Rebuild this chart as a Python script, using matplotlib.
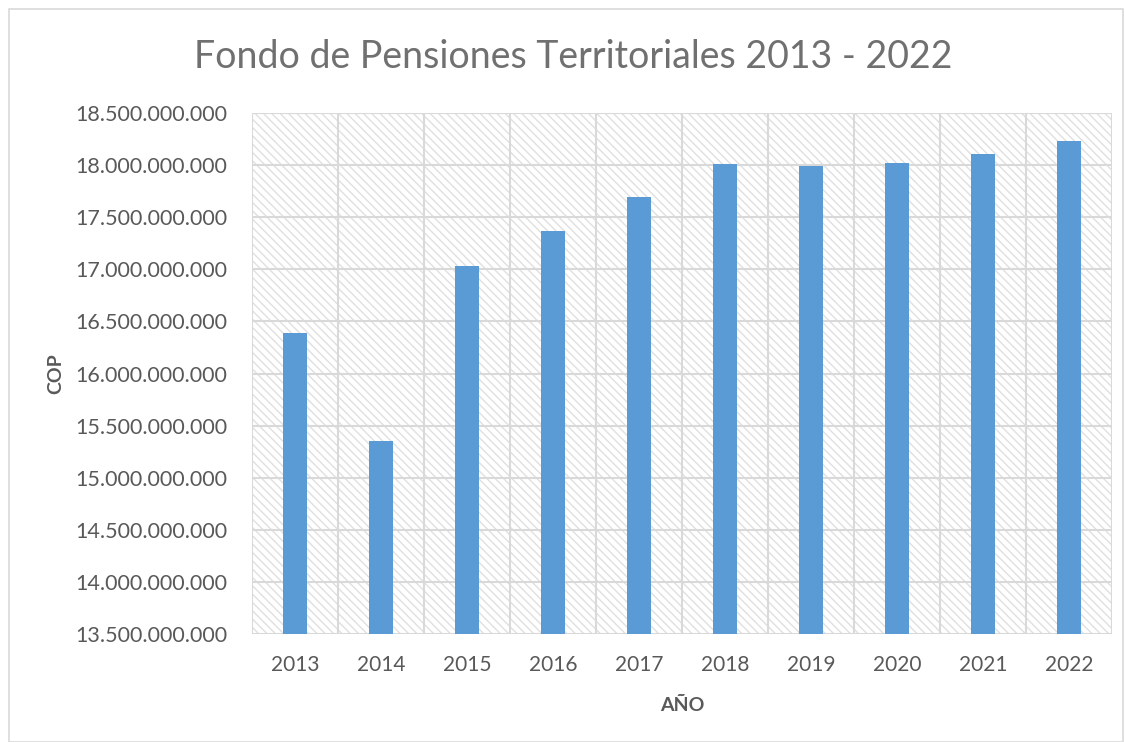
import matplotlib
matplotlib.use("Agg")
import matplotlib.pyplot as plt
import numpy as np
from matplotlib.patches import Rectangle
from matplotlib.ticker import FuncFormatter

years = ["2013", "2014", "2015", "2016", "2017", "2018", "2019", "2020", "2021", "2022"]
valores = [16390000000, 15350000000, 17030000000, 17370000000, 17690000000,
           18010000000, 17995000000, 18020000000, 18110000000, 18230000000]
yticks = np.arange(13500000000, 18500000001, 500000000)

plt.rcParams['font.family'] = ['Lato', 'DejaVu Sans']
plt.rcParams['hatch.linewidth'] = 1.0

fig = plt.figure(figsize=(11.25, 7.42), dpi=100)
ax = fig.add_axes([252/1125, 1-634/742, (1112-252)/1125, (634-113)/742])

# marco exterior
fig.patches.append(Rectangle((9/1125, 0), 1114/1125, 1-9/742, transform=fig.transFigure,
                             fill=False, edgecolor='#D9D9D9', linewidth=1.2))

# fondo con trama
ax.add_patch(Rectangle((0, 0), 1, 1, transform=ax.transAxes, facecolor='white',
                       edgecolor='#E0E0E0', linewidth=0, hatch='\\\\\\\\', zorder=0))

x = np.arange(len(years))
ax.bar(x, valores, width=0.28, color='#5B9BD5', zorder=3)

ax.set_xlim(-0.5, len(years) - 0.5)
ax.set_ylim(13500000000, 18500000000)
ax.set_yticks(yticks)
ax.yaxis.set_major_formatter(FuncFormatter(lambda v, p: f"{int(round(v)):,}".replace(",", ".")))
ax.set_xticks(x)
ax.set_xticklabels(years)

for yv in yticks:
    ax.axhline(yv, color='#D9D9D9', linewidth=1.5, zorder=1)
for xv in np.arange(-0.5, len(years), 1):
    ax.axvline(xv, color='#D9D9D9', linewidth=1.5, zorder=1)

for s in ax.spines.values():
    s.set_visible(False)
ax.tick_params(axis='both', length=0, colors='#595959')
ax.tick_params(axis='x', pad=15, labelsize=15)
ax.tick_params(axis='y', pad=18, labelsize=15.5)

ax.set_xlabel("AÑO", fontsize=14, fontweight='bold', color='#595959', labelpad=16)
ax.set_ylabel("COP", fontsize=14, fontweight='bold', color='#595959', labelpad=8)
fig.text(0.51, 1-57/742, "Fondo de Pensiones Territoriales 2013 - 2022", ha='center', va='center',
         fontsize=27, color='#707070')

fig.savefig("out.png", dpi=100)
